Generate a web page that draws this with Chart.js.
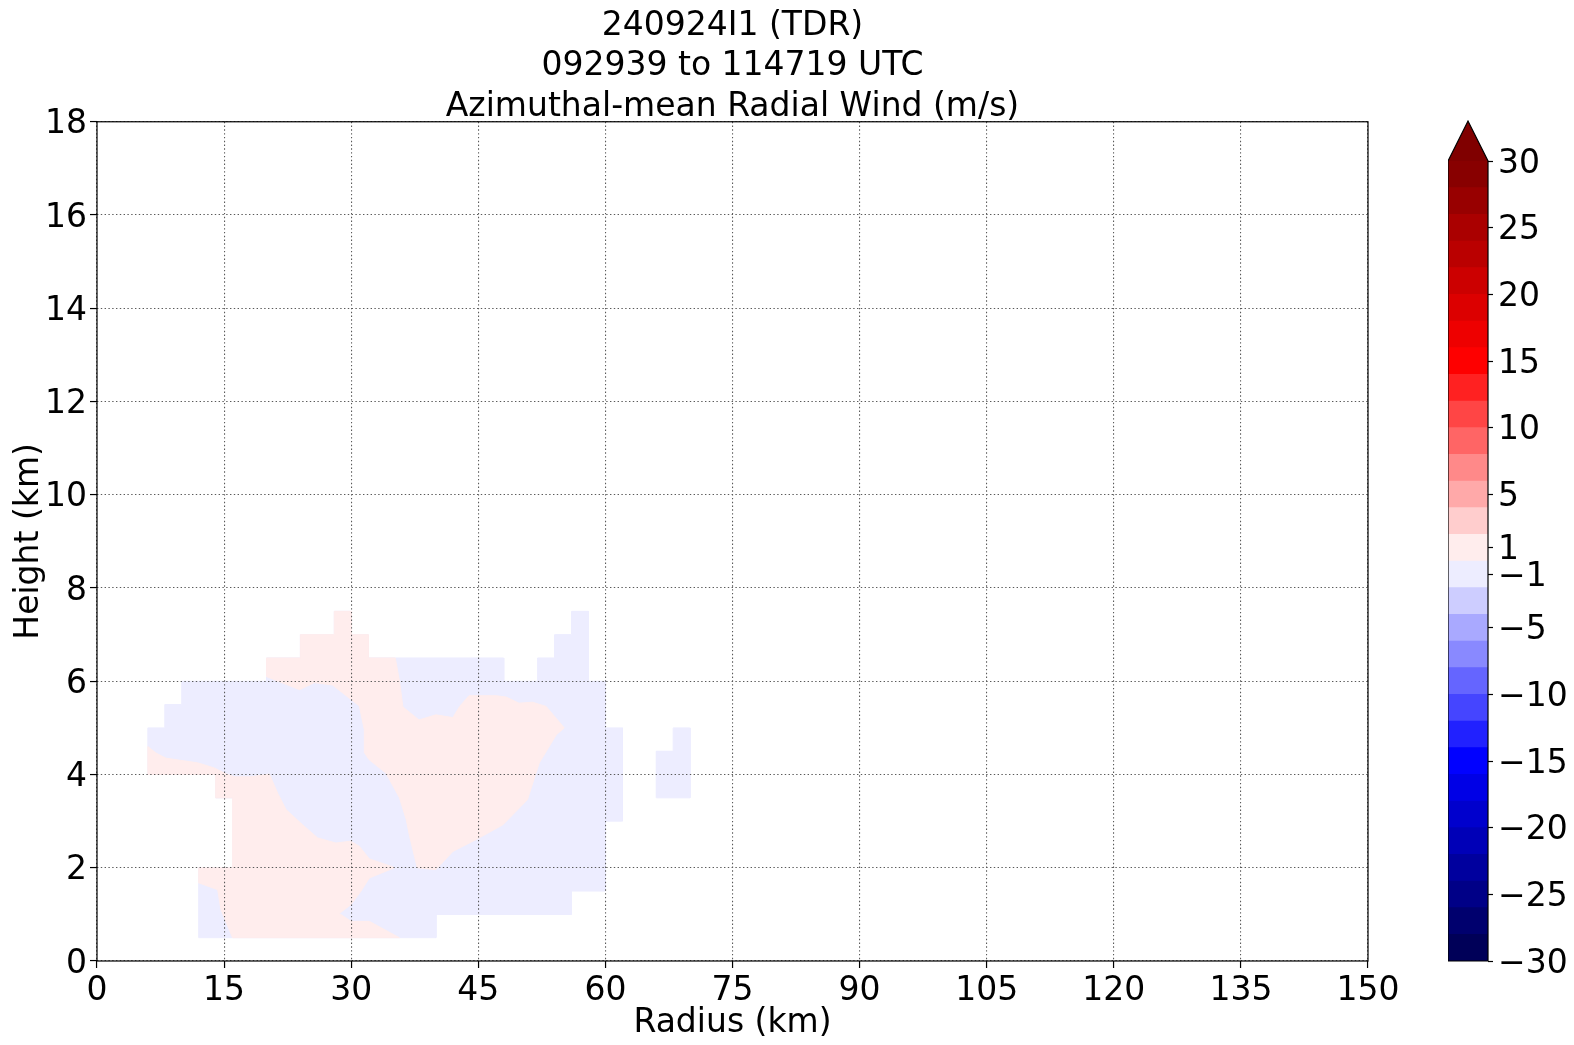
<!DOCTYPE html>
<html>
<head>
<meta charset="utf-8">
<script src="https://cdn.jsdelivr.net/npm/chart.js@4.4.1/dist/chart.umd.min.js"></script>
<style>
  body { margin: 0; background: #fff; overflow: hidden; }
  #main { position: absolute; left: 0; top: 0; }
  #cbar { position: absolute; left: 1448px; top: 100px; }
</style>
</head>
<body>
<canvas id="main" width="1574" height="1045"></canvas>
<canvas id="cbar" width="126" height="920"></canvas>
<script>
// titulos
const titleLines = ['240924I1 (TDR)', '092939 to 114719 UTC', 'Azimuthal-mean Radial Wind (m/s)'];

// niveis do contourf e ticks da barra de cores (m/s)
const cbLevels = [-30, -28, -26, -24, -22, -20, -18, -16, -14, -12, -10, -8, -6, -4, -2, 0,
                  2, 4, 6, 8, 10, 12, 14, 16, 18, 20, 22, 24, 26, 28, 30];
const cbTicks = [-30, -25, -20, -15, -10, -5, -1, 1, 5, 10, 15, 20, 25, 30];

// contorno da area com dados (raio km / altura km) -> faixa -2..0
const edgeR = [6, 6, 8, 8, 10, 10, 20, 20, 24, 24, 28, 28, 30, 30, 32, 32, 48, 48, 52, 52, 54, 54, 56, 56, 58, 58,
               60, 60, 62, 62, 60, 60, 56, 56, 40, 40, 12, 12, 16, 16, 14, 14, 6];
const edgeH = [4, 5, 5, 5.5, 5.5, 6, 6, 6.5, 6.5, 7, 7, 7.5, 7.5, 7, 7, 6.5, 6.5, 6, 6, 6.5, 6.5, 7, 7, 7.5, 7.5, 6,
               6, 5, 5, 3, 3, 1.5, 1.5, 1, 1, 0.5, 0.5, 2, 2, 3.5, 3.5, 4, 4];

// bloco isolado a ~68 km (-2..0)
const blobR = [66, 66, 68, 68, 70, 70, 66];
const blobH = [3.5, 4.5, 4.5, 5, 5, 3.5, 3.5];

// regiao 0..2 superior/central
const pinkTopR = [20, 20, 24, 24, 28, 28, 30, 30, 32, 32, 35.2, 35.7, 36.1, 38.0, 40.0, 42.0, 42.8, 43.9, 47.1, 48.3,
                  49.8, 51.4, 53.0, 55.15, 54.2, 52.2, 51.8, 50.8, 47.9, 44.9, 42.0, 40.0, 37.8, 36.9, 36.5, 35.7,
                  34.1, 32.1, 31.6, 31.55, 30.96, 27.8, 25.65, 23.9, 20];
const pinkTopH = [6.1, 6.5, 6.5, 7, 7, 7.5, 7.5, 7, 7, 6.5, 6.5, 6.0, 5.45, 5.17, 5.28, 5.22, 5.46, 5.69, 5.69, 5.66,
                  5.53, 5.55, 5.46, 5.0, 4.85, 4.25, 4.03, 3.46, 2.92, 2.62, 2.35, 1.96, 2.0, 2.67, 3.03, 3.5,
                  4.03, 4.32, 4.46, 4.96, 5.47, 5.92, 5.97, 5.82, 6.1];

// regiao 0..2 inferior/esquerda
const pinkLowR = [6, 6.96, 8.14, 11.88, 13.85, 15.03, 16.2, 18.17, 20.34, 21.32, 22.3, 24.27, 26.04, 28.2, 29.94,
                  30.96, 32.14, 34.89, 35.09, 32.14, 31.16, 29.98, 28.6, 29.98, 32.14, 35.68, 16.0, 14.63, 14.24,
                  11.96, 12, 16, 16, 14, 14, 6, 6];
const pinkLowH = [4.6, 4.46, 4.35, 4.25, 4.14, 4.03, 3.95, 3.95, 4.01, 3.6, 3.25, 2.92, 2.64, 2.53, 2.57,
                  2.46, 2.19, 2.02, 2.0, 1.78, 1.5, 1.21, 1.02, 0.85, 0.85, 0.5, 0.5, 1.1, 1.53,
                  1.68, 2, 2, 3.5, 3.5, 4, 4, 4.6];

// colormap seismic do matplotlib (256 cores)
function seismic(x) {
    const stops = [[0, 0, 0.3], [0, 0, 1], [1, 1, 1], [1, 0, 0], [0.5, 0, 0]];
    const idx = Math.max(0, Math.min(255, Math.floor(x * 256)));
    const p = idx / 255 * 4;
    const k = Math.min(3, Math.floor(p));
    const t = p - k;
    const c = stops[k].map((v, j) => Math.round(255 * (v + (stops[k + 1][j] - v) * t)));
    return `rgb(${c[0]}, ${c[1]}, ${c[2]})`;
}
const vmin = cbLevels[0], vmax = cbLevels[cbLevels.length - 1];
const colorFor = v => seismic((v - vmin) / (vmax - vmin));
const blueFill = colorFor(-1);
const pinkFill = colorFor(1);

const pts = (rs, hs) => rs.map((r, i) => ({ x: r, y: hs[i] }));

function poligono(rs, hs, cor, ordem) {
    return {
        data: pts(rs, hs),
        showLine: true,
        fill: 'shape',
        backgroundColor: cor,
        borderColor: cor,
        borderWidth: 1,
        pointRadius: 0,
        order: ordem
    };
}

Chart.defaults.font.family = "'DejaVu Sans', sans-serif";
Chart.defaults.font.size = 33;
Chart.defaults.color = '#000';

const fonte = { family: "'DejaVu Sans', sans-serif", size: 33, weight: 'normal', lineHeight: 1.2 };
const gradeCor = '#5a5a5a';
const pontilhado = [1.4, 2.4];

// moldura completa (4 lados) como no matplotlib
const moldura = {
    id: 'moldura',
    afterDraw(chart) {
        const { ctx, chartArea: a } = chart;
        ctx.save();
        ctx.strokeStyle = '#000';
        ctx.lineWidth = 1.2;
        ctx.strokeRect(a.left, a.top, a.right - a.left, a.bottom - a.top);
        ctx.restore();
    }
};

new Chart(document.getElementById('main'), {
    type: 'scatter',
    data: {
        datasets: [
            poligono(edgeR, edgeH, blueFill, 2),
            poligono(blobR, blobH, blueFill, 2),
            poligono(pinkTopR, pinkTopH, pinkFill, 1),
            poligono(pinkLowR, pinkLowH, pinkFill, 1)
        ]
    },
    options: {
        responsive: false,
        animation: false,
        layout: { padding: { left: 0, right: 109, top: 0, bottom: 0 } },
        elements: { line: { tension: 0 } },
        plugins: {
            legend: { display: false },
            tooltip: { enabled: false },
            title: {
                display: true,
                text: titleLines,
                font: { ...fonte, lineHeight: 1.23 },
                color: '#000',
                padding: { top: 6, bottom: -6 }
            }
        },
        scales: {
            x: {
                type: 'linear',
                min: 0,
                max: 150,
                afterFit: s => { s.height = 84; },
                ticks: { stepSize: 15, padding: 4, font: fonte, maxRotation: 0 },
                grid: {
                    z: 1, color: gradeCor, lineWidth: 1.1,
                    tickColor: '#000', tickWidth: 1.2, tickLength: 7, tickBorderDash: []
                },
                border: { display: false, dash: pontilhado },
                title: { display: true, text: 'Radius (km)', font: fonte, color: '#000', padding: { top: 0, bottom: 2 } }
            },
            y: {
                type: 'linear',
                min: 0,
                max: 18,
                afterFit: s => { s.width = 97; },
                ticks: { stepSize: 2, padding: 3, labelOffset: 3, font: fonte },
                grid: {
                    z: 1, color: gradeCor, lineWidth: 1.1,
                    tickColor: '#000', tickWidth: 1.2, tickLength: 7, tickBorderDash: []
                },
                border: { display: false, dash: pontilhado },
                title: { display: true, text: 'Height (km)', font: fonte, color: '#000', padding: { top: 10, bottom: 0 } }
            },
            // eixo vazio a direita so para centrar o titulo sobre a area do grafico
            yDir: {
                type: 'linear',
                position: 'right',
                display: true,
                afterFit: s => { s.width = 97; },
                ticks: { display: false },
                grid: { display: false },
                border: { display: false }
            }
        }
    },
    plugins: [moldura]
});

// barra de cores com seta (extend='max')
const contornoBarra = {
    id: 'contornoBarra',
    afterDraw(chart) {
        const { ctx, chartArea: a } = chart;
        const seta = 0.05 * (a.bottom - a.top);
        const meio = (a.left + a.right) / 2;
        ctx.save();
        ctx.beginPath();
        ctx.moveTo(a.left, a.top);
        ctx.lineTo(meio, a.top - seta);
        ctx.lineTo(a.right, a.top);
        ctx.closePath();
        ctx.fillStyle = seismic(1);
        ctx.fill();
        ctx.beginPath();
        ctx.moveTo(a.left, a.bottom);
        ctx.lineTo(a.left, a.top);
        ctx.lineTo(meio, a.top - seta);
        ctx.lineTo(a.right, a.top);
        ctx.lineTo(a.right, a.bottom);
        ctx.closePath();
        ctx.strokeStyle = '#000';
        ctx.lineWidth = 1.2;
        ctx.stroke();
        ctx.restore();
    }
};

new Chart(document.getElementById('cbar'), {
    type: 'bar',
    data: {
        labels: [''],
        datasets: cbLevels.slice(0, -1).map((lo, i) => ({
            data: [[lo, cbLevels[i + 1]]],
            backgroundColor: colorFor((lo + cbLevels[i + 1]) / 2),
            borderWidth: 0,
            barPercentage: 1,
            categoryPercentage: 1,
            grouped: false
        }))
    },
    options: {
        responsive: false,
        animation: false,
        layout: { padding: { left: 0, right: 0, top: 61, bottom: 59 } },
        plugins: { legend: { display: false }, tooltip: { enabled: false } },
        scales: {
            x: { display: false },
            y: {
                position: 'right',
                min: vmin,
                max: vmax,
                afterFit: s => { s.width = 86; },
                afterBuildTicks: s => { s.ticks = cbTicks.map(v => ({ value: v })); },
                ticks: {
                    autoSkip: false,
                    padding: 5,
                    labelOffset: 3,
                    font: fonte,
                    callback: v => (v < 0 ? '\u2212' + (-v) : String(v))
                },
                grid: { drawOnChartArea: false, tickLength: 5, tickColor: '#000', tickWidth: 1.2 },
                border: { display: false }
            }
        }
    },
    plugins: [contornoBarra]
});
</script>
</body>
</html>
